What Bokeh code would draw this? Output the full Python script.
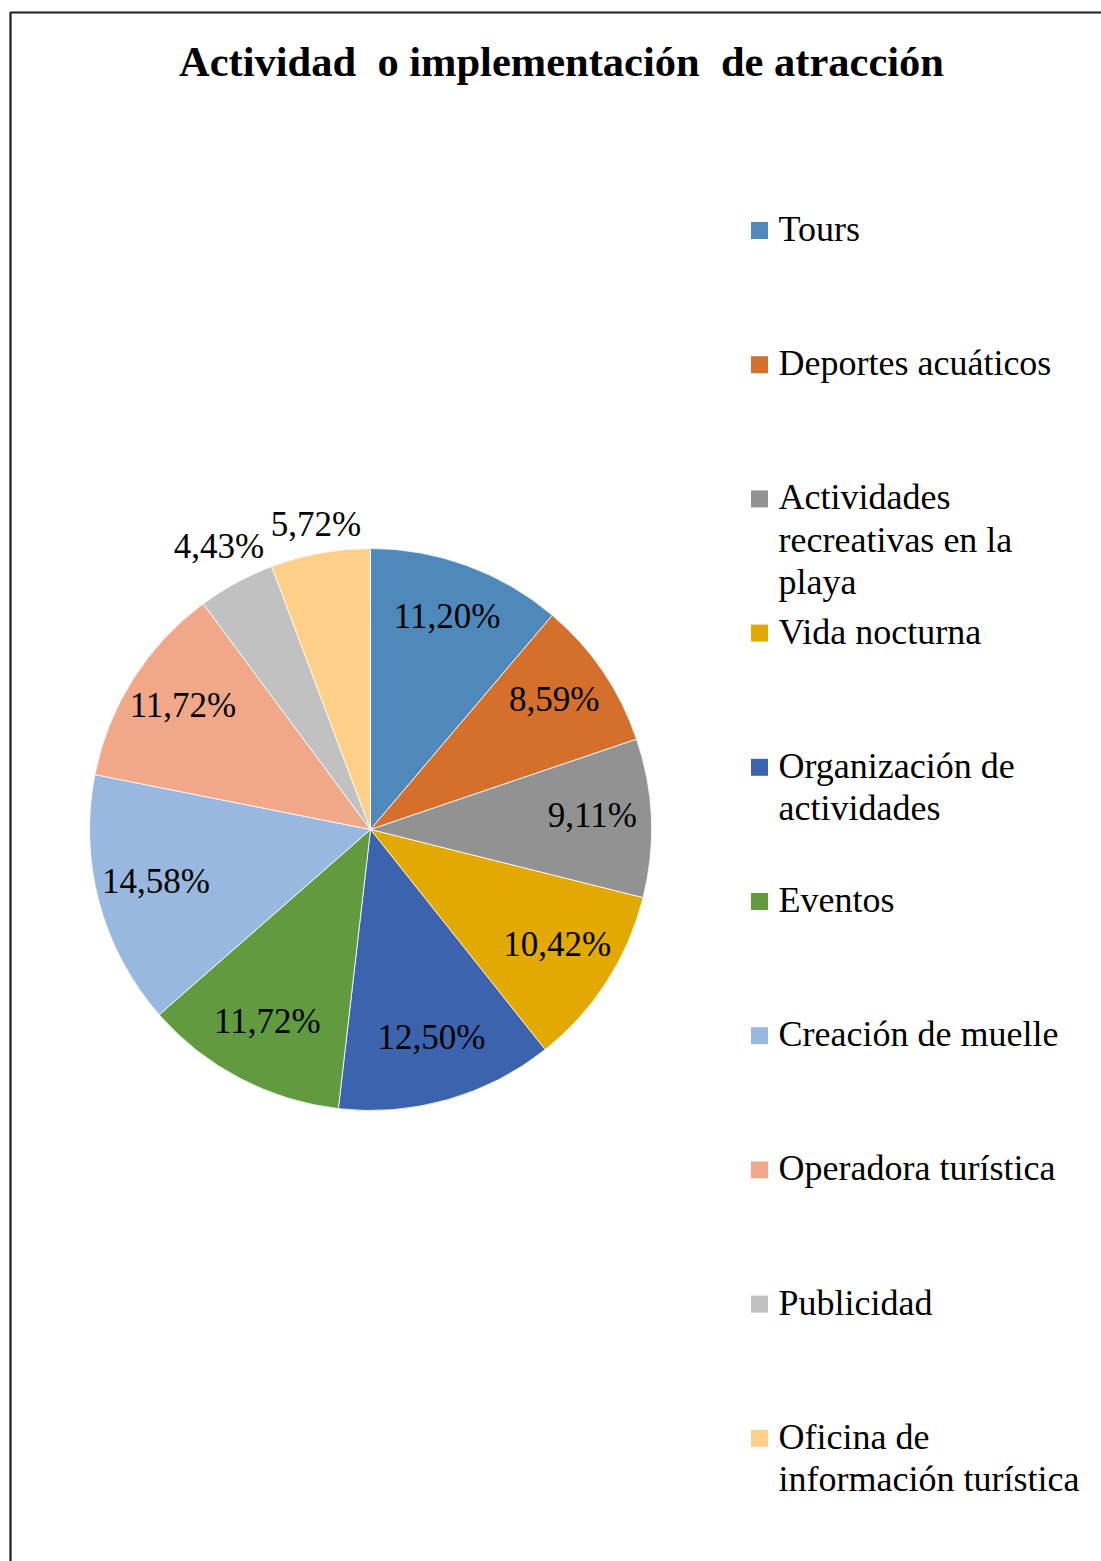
import math
from bokeh.plotting import figure
from bokeh.models import Range1d, ColumnDataSource
from bokeh.core.properties import value
from bokeh.embed import file_html
from bokeh.resources import INLINE

# ---------------- data ----------------
title_text = "Actividad\u00a0 o implementación\u00a0 de atracción"
categories = [
    "Tours",
    "Deportes acuáticos",
    "Actividades\nrecreativas en la\nplaya",
    "Vida nocturna",
    "Organización de\nactividades",
    "Eventos",
    "Creación de muelle",
    "Operadora turística",
    "Publicidad",
    "Oficina de\ninformación turística",
]
percentages = [11.20, 8.59, 9.11, 10.42, 12.50, 11.72, 14.58, 11.72, 4.43, 5.72]
pct_labels = ["11,20%", "8,59%", "9,11%", "10,42%", "12,50%", "11,72%",
              "14,58%", "11,72%", "4,43%", "5,72%"]
colors = ["#4F89BC", "#D4702C", "#929292", "#E2A900", "#3C63AD",
          "#629A3F", "#98B8DF", "#F0A889", "#C1C1C1", "#FED089"]

# ---------------- layout (pixel-like coordinates) ----------------
W, H = 1101, 1561


def Y(img_y):
    return H - img_y


FONT = "Liberation Serif"
CX, CY = 370, Y(829)
R = 281
LABEL_R = 222
FS = 35
LEG_FS = 36

p = figure(width=W, height=H, x_range=Range1d(0, W), y_range=Range1d(0, H),
           output_backend="svg", toolbar_location=None,
           x_axis_type=None, y_axis_type=None, min_border=0)
p.grid.visible = False
p.outline_line_color = None
p.background_fill_color = "white"
p.border_fill_color = "white"

# frame border (left and top visible, cropped at right/bottom)
p.line(x=[10, 10, 1120], y=[Y(1580), Y(12), Y(12)], line_color="#1e1e1e", line_width=2.2)

# title
p.text(x=[561], y=[Y(61)], text=[title_text], text_font=value(FONT),
       text_font_size="42.5px", text_font_style="bold", text_color="black",
       text_align="center", text_baseline="alphabetic")

# ---------------- pie ----------------
total = sum(percentages)
starts, ends, lx, ly, mids = [], [], [], [], []
cum = 0.0
for v in percentages:
    a0 = math.pi / 2 - 2 * math.pi * (cum + v) / total
    a1 = math.pi / 2 - 2 * math.pi * cum / total
    starts.append(a0)
    ends.append(a1)
    mids.append((a0 + a1) / 2)
    cum += v

src = ColumnDataSource(dict(x=[CX] * len(percentages), y=[CY] * len(percentages),
                            start=starts, end=ends, color=colors))
p.wedge(x="x", y="y", radius=R, start_angle="start", end_angle="end",
        fill_color="color", line_color="white", line_width=0.8, source=src,
        direction="anticlock")

for v, lab, m in zip(percentages, pct_labels, mids):
    c, s = math.cos(m), math.sin(m)
    if v < 7:
        hw = FS * (0.5 * (len(lab) - 2) + 0.25 + 0.833) / 2
        hh = 13
        d = R + hw * abs(c) + hh * abs(s) + 3
    else:
        d = LABEL_R
    lx.append(CX + d * c)
    ly.append(CY + d * s + 5)

p.text(x=lx, y=ly, text=pct_labels, text_font=value(FONT), text_font_size=f"{FS}px",
       text_color="black", text_align="center", text_baseline="middle")

# ---------------- legend ----------------
LEG_X_BOX = 759
LEG_X_TEXT = 778
LEG_Y0 = 238.5
LEG_STEP = 134.2
LINE_H = 42.5
TEXT_SHIFT = 10

box_x, box_y = [], []
tx, ty, tt = [], [], []
for i, cat in enumerate(categories):
    base = LEG_Y0 + i * LEG_STEP
    box_x.append(LEG_X_BOX)
    box_y.append(Y(base - 8.5))
    for j, line in enumerate(cat.split("\n")):
        tx.append(LEG_X_TEXT)
        ty.append(Y(base + j * LINE_H - TEXT_SHIFT))
        tt.append(line)

p.rect(x=box_x, y=box_y, width=17, height=17, fill_color=colors, line_color=None)
p.text(x=tx, y=ty, text=tt, text_font=value(FONT), text_font_size=f"{LEG_FS}px",
       text_color="black", text_align="left", text_baseline="alphabetic")

open("out.html", "w").write(file_html(p, INLINE))
